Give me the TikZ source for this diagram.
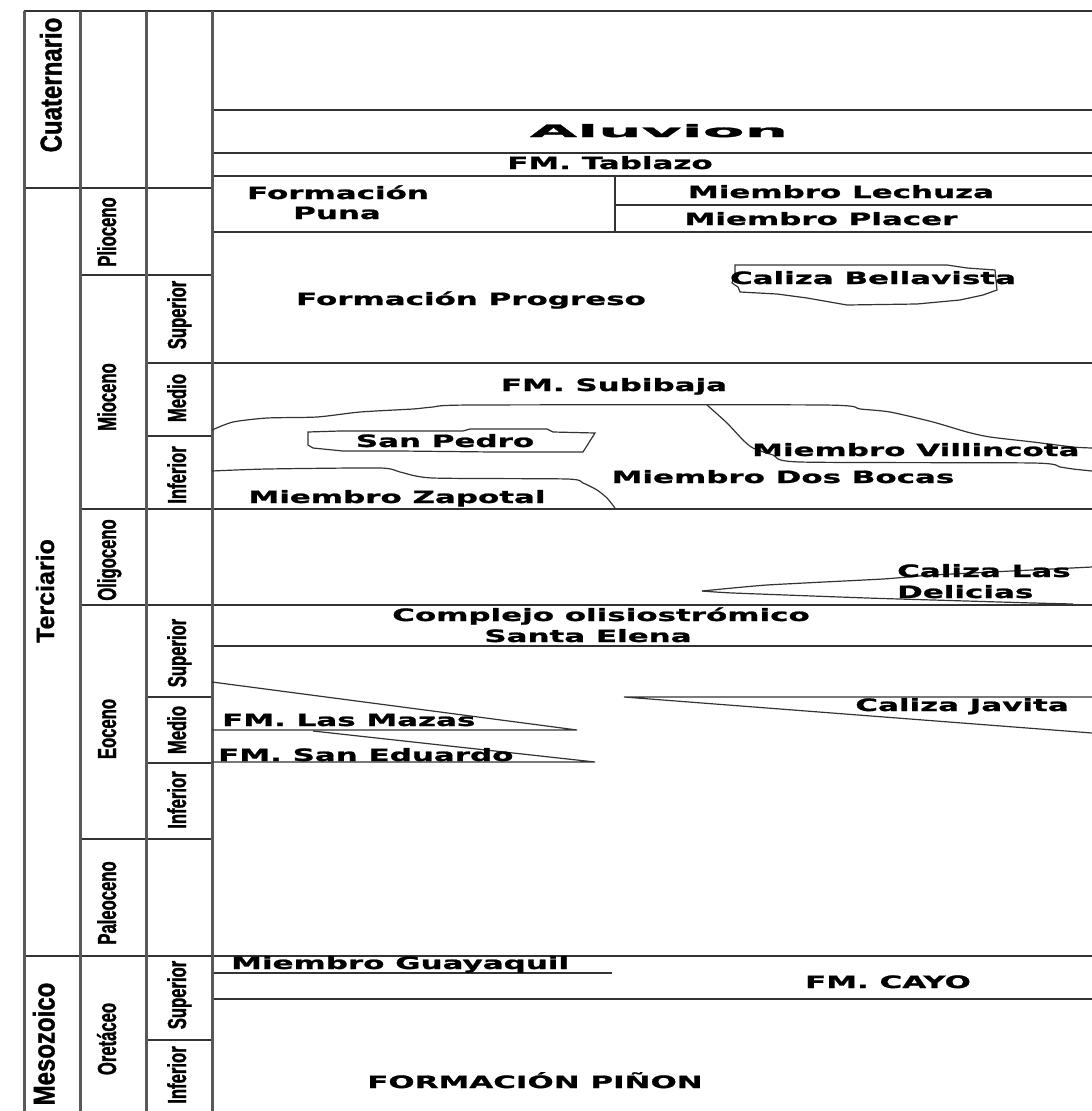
\documentclass[tikz,border=0pt]{standalone}
\usepackage{fontspec}
\usepackage{tikz}
\newfontfamily\fmfont[FakeStretch=1.82, FakeBold=1.2]{DejaVu Sans}
\newfontfamily\alufont[FakeStretch=3.6, FakeBold=1.5]{DejaVu Sans}
\newfontfamily\agefont[FakeStretch=0.64, FakeBold=1.2]{Liberation Sans}
\newfontfamily\erafont[FakeStretch=0.8, FakeBold=1.2]{Liberation Sans}
\newfontfamily\terfont[FakeBold=1]{Liberation Sans}

\begin{document}
\begin{tikzpicture}[x=1pt,y=-1pt]

\tikzstyle{grid} = [draw=black!80, line width=1.4pt]
\tikzstyle{column} = [draw=black!65, line width=3pt]
\tikzstyle{contact} = [draw=black!80, line width=1.2pt]
\tikzstyle{fm} = [inner sep=0pt, text height=12pt, text depth=0pt, font=\fmfont\bfseries\fontsize{17}{20}\selectfont]
\tikzstyle{age} = [inner sep=0pt, rotate=90, text height=18pt, text depth=0pt, font=\agefont\bfseries\fontsize{26}{26}\selectfont]
\tikzstyle{era} = [inner sep=0pt, rotate=90, text height=21pt, text depth=0pt, font=\erafont\bfseries\fontsize{30}{30}\selectfont]

\fill[white] (0,0) rectangle (1092,1111);
\useasboundingbox (0,0) rectangle (1092,1111);

%Row divisions: left columns

\draw[grid] (24,11) -- (1092,11);
\draw[grid] (24,188) -- (212,188);
\draw[grid] (80,275) -- (212,275);
\draw[grid] (146,363) -- (1092,363);
\draw[grid] (146,436) -- (212,436);
\draw[grid] (80,509) -- (1092,509);
\draw[grid] (80,605) -- (1092,605);
\draw[grid] (146,697) -- (212,697);
\draw[grid] (146,763) -- (212,763);
\draw[grid] (80,839) -- (212,839);
\draw[grid] (24,956) -- (1092,956);
\draw[grid] (146,1040) -- (212,1040);

%Row divisions: formations

\foreach \y in {110,153,176,232,646,999}
  \draw[grid] (212,\y) -- (1092,\y);
\draw[grid] (212,973) -- (612,973);
\draw[grid] (615,205) -- (1092,205);
\draw[grid] (615,176) -- (615,232);

%Columns

\foreach \x in {24,80,146,212}
  \draw[column] (\x,11) -- (\x,1111);

%Era

\node[era] (cuaternario) at (51,85) {Cuaternario};
\node[inner sep=0pt, rotate=90, text height=18pt, text depth=0pt, font=\terfont\bfseries\fontsize{25}{25}\selectfont] (terciario) at (45,591) {Terciario};
\node[era] (mesozoico) at (44,1044) {Mesozoico};

%Periods and epochs

\node[age] (plioceno) at (107,232) {Plioceno};
\node[age] (mioceno) at (107,397) {Mioceno};
\node[age] (oligoceno) at (107,560) {Oligoceno};
\node[age] (eoceno) at (107,729) {Eoceno};
\node[age] (paleoceno) at (107,903) {Paleoceno};
\node[age] (cretaceo) at (107,1039) {Oretáceo};

\node[age] (mio_sup) at (177,315) {Superior};
\node[age] (mio_med) at (177,398) {Medio};
\node[age] (mio_inf) at (177,475) {Inferior};
\node[age] (eoc_sup) at (177,653) {Superior};
\node[age] (eoc_med) at (177,730) {Medio};
\node[age] (eoc_inf) at (177,800) {Inferior};
\node[age] (cre_sup) at (177,995) {Superior};
\node[age] (cre_inf) at (177,1075) {Inferior};

%Pliocene and Quaternary

\node[fm, font=\alufont\bfseries\fontsize{17}{20}\selectfont] (aluvion) at (659,131) {Aluvion};
\node[fm] (tablazo) at (610,163) {FM. Tablazo};
\node[fm] (puna_a) at (338,193) {Formación};
\node[fm] (puna_b) at (337,213) {Puna};
\node[fm] (lechuza) at (841,192) {Miembro Lechuza};
\node[fm] (placer) at (821,219) {Miembro Placer};

%Miocene

\node[fm] (progreso) at (471,299) {Formación Progreso};
\draw[contact] (735,265) -- (947,265) -- (967,268) -- (995,270) -- (997,290) -- (983,295) -- (960,300) -- (917,304) -- (847,305) -- (807,298) -- (777,294) -- (740,292) -- (738,287) -- (732,283) -- (735,273) -- cycle;
\node[fm] (bellavista) at (873,278) {Caliza Bellavista};

\node[fm] (subibaja) at (614,385) {FM. Subibaja};
\draw[contact] plot[smooth, tension=0.4] coordinates {(212,430) (233,422) (267,418) (317,417) (360,412) (413,409) (433,407) (473,405) (823,405) (860,409) (890,412) (933,422) (967,432) (990,437) (1033,442) (1073,447) (1092,448)};
\draw[contact] plot[smooth, tension=0.4] coordinates {(707,405) (727,423) (743,440) (753,448) (773,455) (800,462) (1033,463) (1060,467) (1073,469) (1092,471)};
\draw[contact] plot[smooth, tension=0.4] coordinates {(212,471) (267,469) (380,468) (400,472) (433,478) (567,479) (583,483) (597,490) (607,498) (615,508)};
\draw[contact] (308,432) -- (340,431) -- (463,431) -- (470,429) -- (547,429) -- (553,432) -- (595,433) -- (583,452) -- (493,452) -- (400,451) -- (343,451) -- (313,448) -- (308,445) -- cycle;

\node[fm] (sanpedro) at (445,441) {San Pedro};
\node[fm, anchor=west] (villincota) at (752,450) {Miembro Villincota};
\node[fm] (dosbocas) at (783,477) {Miembro Dos Bocas};
\node[fm] (zapotal) at (397,497) {Miembro Zapotal};

%Oligocene

\draw[contact] plot[smooth, tension=0.3] coordinates {(702,591) (767,585) (883,579) (933,575) (1092,567)};
\draw[contact] plot[smooth, tension=0.3] coordinates {(702,591) (733,593) (867,598) (933,600) (1033,603) (1073,604)};
\node[fm, anchor=west] (delicias_a) at (897,571) {Caliza Las};
\node[fm, anchor=west] (delicias_b) at (897,592) {Delicias};

%Eocene

\node[fm] (complejo_a) at (601,615) {Complejo olisiostrómico};
\node[fm] (complejo_b) at (588,636) {Santa Elena};

\draw[contact] (212,682) -- (577,730) -- (212,730);
\draw[contact] (313,731) -- (595,762) -- (212,762);
\draw[contact] (1092,697) -- (624,697) -- (1092,733);

\node[fm, anchor=west] (lasmazas) at (222,720) {FM. Las Mazas};
\node[fm, anchor=west] (saneduardo) at (218,755) {FM. San Eduardo};
\node[fm] (javita) at (962,705) {Caliza Javita};

%Cretaceous

\node[fm, anchor=west] (guayaquil) at (231,963) {Miembro Guayaquil};
\node[fm] (cayo) at (888,982) {FM. CAYO};
\node[fm] (pinon) at (535,1082) {FORMACIÓN PIÑON};

\end{tikzpicture}
\end{document}
